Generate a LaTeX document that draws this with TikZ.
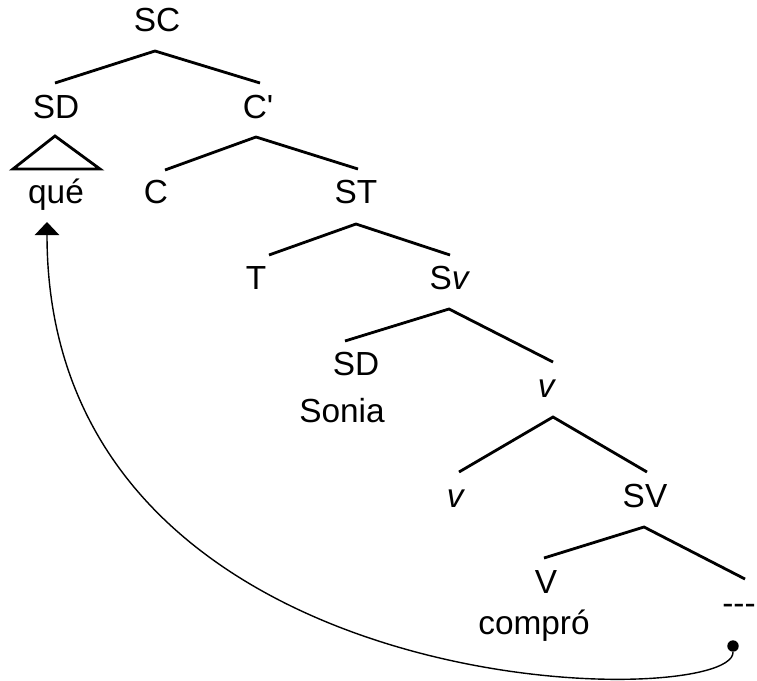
\documentclass[tikz,border=0pt]{standalone}
\usepackage{fontspec}
\newfontfamily\arial{Liberation Sans}
\usepackage{tikz}
\usetikzlibrary{arrows.meta,calc,positioning}
\tikzset{
  lab/.style={anchor=base,inner sep=0pt,font=\arial\fontsize{19}{22}\selectfont},
  branch/.style={line width=1.6pt,line join=miter},
  dot/.style={circle,fill,inner sep=0pt,minimum size=6.5pt},
  move/.style={line width=0.8pt,-{Triangle[width=14pt,length=7.5pt]}}
}

\begin{document}
\begin{tikzpicture}[x=0.02cm,y=-0.02cm]
  \useasboundingbox (0,0) rectangle (757,680);
  % labels of the tree
  \node[lab] (sc) at (157,31) {SC};
  \node[lab] (sd) at (56,118) {SD};
  \node[lab] (cbar) at (258,118) {C'};
  \node[lab] (que) at (56,203) {qué};
  \node[lab] (c) at (156,203) {C};
  \node[lab] (st) at (356,203) {ST};
  \node[lab] (t) at (256,289) {T};
  \node[lab] (sv) at (450,289) {S\textit{v}};
  \node[lab] (sdb) at (356,375) {SD};
  \node[lab] (sonia) at (342,422) {Sonia};
  \node[lab] (vbar) at (547,397) {\textit{v}};
  \node[lab] (vv) at (456,507) {\textit{v}};
  \node[lab] (svv) at (645,507) {SV};
  \node[lab] (verb) at (546,593) {V};
  \node[lab] (compro) at (534,634) {compró};
  \node[lab] (gap) at (739,614) {---};
  \node[dot] (trace) at (733,646) {};
  \coordinate (target) at ([shift={(-9,19)}]que.base);

  % branches
  \draw[branch] ([shift={(-1,-35)}]sd.base) -- ([shift={(-2,20)}]sc.base) -- ([shift={(2,-35)}]cbar.base);
  \draw[branch] ([shift={(-1,-67)}]que.base) -- ([shift={(-43,-34)}]que.base) -- ([shift={(44,-34)}]que.base) -- cycle;
  \draw[branch] ([shift={(9,-33)}]c.base) -- ([shift={(-2,19)}]cbar.base) -- ([shift={(2,-34)}]st.base);
  \draw[branch] ([shift={(13,-34)}]t.base) -- ([shift={(0,21)}]st.base) -- ([shift={(0,-34)}]sv.base);
  \draw[branch] ([shift={(-11,-34)}]sdb.base) -- ([shift={(-1,20)}]sv.base) -- ([shift={(6,-35)}]vbar.base);
  \draw[branch] ([shift={(3,-35)}]vv.base) -- ([shift={(6,20)}]vbar.base) -- ([shift={(2,-35)}]svv.base);
  \draw[branch] ([shift={(-2,-35)}]verb.base) -- ([shift={(-1,20)}]svv.base) -- ([shift={(6,-35)}]gap.base);

  % movement
  \draw[move] (trace.south) .. controls (735,712) and (47,712) .. (target);
\end{tikzpicture}
\end{document}
